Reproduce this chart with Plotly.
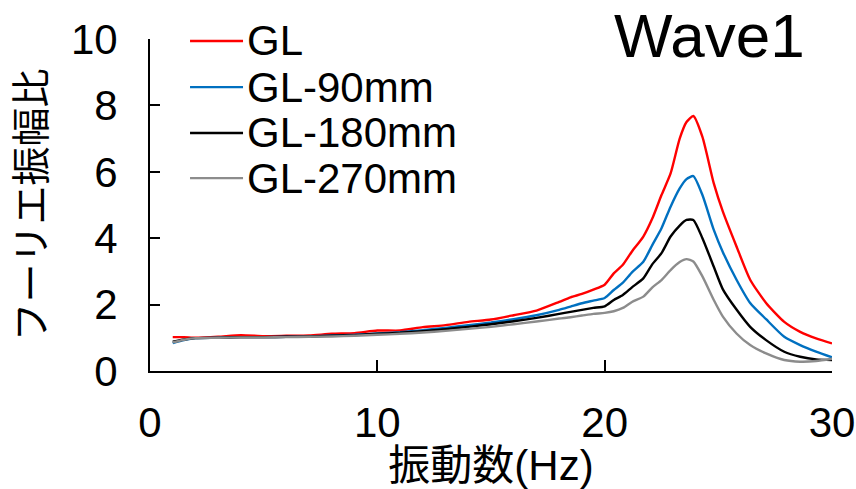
import plotly.graph_objects as go

freq = [1.0, 1.5, 2.0, 3, 4, 5, 6, 7, 8, 9, 10, 11, 12, 13, 14, 15, 16, 17, 18, 18.5,
        19, 19.5, 20, 20.4, 20.8, 21.2, 21.7, 22.1, 22.5, 22.9, 23.3, 23.6, 23.9, 24.3,
        24.8, 25.2, 25.8, 26.4, 27.1, 27.9, 28.6, 29.3, 30]

gl = [1.02, 1.02, 1.0, 1.03, 1.08, 1.05, 1.06, 1.07, 1.12, 1.14, 1.22, 1.22, 1.32, 1.38,
      1.48, 1.55, 1.68, 1.82, 2.08, 2.22, 2.32, 2.45, 2.6, 2.94, 3.2, 3.6, 4.05, 4.6, 5.3,
      5.95, 7.0, 7.5, 7.68, 7.05, 5.65, 4.8, 3.75, 2.75, 2.05, 1.48, 1.18, 0.98, 0.83]

gl90 = [0.84, 0.93, 0.99, 1.0, 1.02, 1.02, 1.03, 1.04, 1.07, 1.09, 1.13, 1.17, 1.23, 1.3,
        1.38, 1.46, 1.56, 1.68, 1.84, 1.94, 2.04, 2.12, 2.2, 2.44, 2.66, 2.97, 3.29, 3.8,
        4.3, 4.95, 5.5, 5.78, 5.87, 5.3, 4.25, 3.58, 2.75, 2.05, 1.56, 1.03, 0.78, 0.58, 0.41]

gl180 = [0.88, 0.95, 0.99, 1.0, 1.02, 1.02, 1.03, 1.04, 1.06, 1.08, 1.12, 1.15, 1.2, 1.26,
         1.33, 1.41, 1.5, 1.6, 1.72, 1.78, 1.84, 1.9, 1.95, 2.14, 2.29, 2.52, 2.79, 3.22,
         3.55, 4.05, 4.38, 4.55, 4.55, 4.0, 3.14, 2.46, 1.85, 1.33, 0.93, 0.58, 0.43, 0.35, 0.33]

gl270 = [0.86, 0.94, 0.99, 1.0, 1.01, 1.01, 1.02, 1.03, 1.04, 1.06, 1.09, 1.12, 1.16, 1.21,
         1.27, 1.33, 1.41, 1.49, 1.58, 1.62, 1.67, 1.72, 1.75, 1.8, 1.9, 2.08, 2.24, 2.52,
         2.74, 3.04, 3.28, 3.37, 3.3, 2.85, 2.14, 1.64, 1.13, 0.78, 0.53, 0.33, 0.28, 0.3, 0.37]

series_names = ["GL", "GL-90mm", "GL-180mm", "GL-270mm"]
series_values = [gl, gl90, gl180, gl270]
series_colors = ["#FF0000", "#0070C0", "#000000", "#8C8C8C"]

x_ticks = [0, 10, 20, 30]
y_ticks = [0, 2, 4, 6, 8, 10]

FONT = "Liberation Sans, Arial, Noto Sans CJK JP, sans-serif"

fig = go.Figure()
for name, vals, col in zip(series_names, series_values, series_colors):
    fig.add_trace(go.Scatter(x=freq, y=vals, mode="lines", name=name, showlegend=False,
                             line=dict(color=col, width=2.4, shape="spline", smoothing=0.6)))

# manual legend (paper coordinates)
legend_rows_y = [0.994, 0.855, 0.717, 0.581]
shapes = []
annotations = []
for name, col, ly in zip(series_names, series_colors, legend_rows_y):
    shapes.append(dict(type="line", xref="paper", yref="paper", x0=0.0587, x1=0.1364,
                       y0=ly, y1=ly, line=dict(color=col, width=2.4)))
    annotations.append(dict(text=name, xref="paper", yref="paper", x=0.139, y=ly,
                            xanchor="left", yanchor="middle", showarrow=False,
                            font=dict(size=42, family=FONT, color="black")))

annotations.append(dict(text="Wave1", xref="paper", yref="paper", x=0.821, y=1.012,
                        xanchor="center", yanchor="middle", showarrow=False,
                        font=dict(size=62, family=FONT, color="black")))

fig.update_layout(
    width=856, height=489,
    margin=dict(l=150, r=24, t=39, b=118, autoexpand=False),
    plot_bgcolor="white", paper_bgcolor="white",
    font=dict(family=FONT, color="black", size=42),
    showlegend=False,
    xaxis=dict(range=[0, 30], tickvals=x_ticks, ticks="inside", ticklen=11, tickwidth=2,
               tickcolor="black", showline=True, linecolor="black", linewidth=2,
               showgrid=False, zeroline=False, tickfont=dict(size=42),
               ticklabelstandoff=14, automargin=False,
               title=dict(text="振動数(Hz)", font=dict(size=42), standoff=2)),
    yaxis=dict(range=[0, 10], tickvals=y_ticks, ticks="inside", ticklen=10, tickwidth=2,
               tickcolor="black", showline=True, linecolor="black", linewidth=2,
               showgrid=False, zeroline=False, tickfont=dict(size=42),
               ticklabelstandoff=22, automargin=False,
               title=dict(text="フーリエ振幅比", font=dict(size=39), standoff=13)),
    shapes=shapes,
    annotations=annotations,
)

fig.write_html("out.html")
